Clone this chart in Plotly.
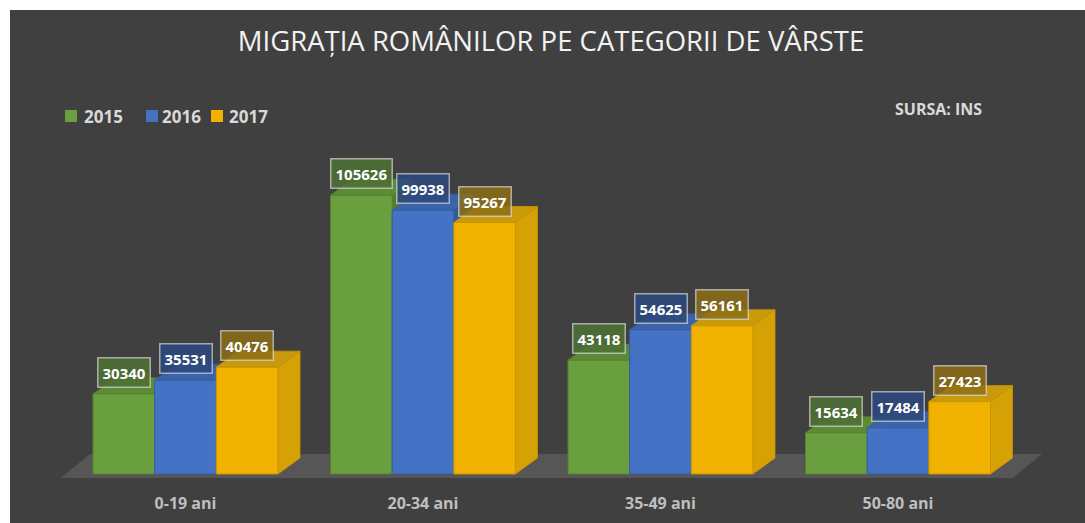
import plotly.graph_objects as go

# ---- data ----
categories = ["0-19 ani", "20-34 ani", "35-49 ani", "50-80 ani"]
years = ["2015", "2016", "2017"]
values_2015 = [30340, 105626, 43118, 15634]
values_2016 = [35531, 99938, 54625, 17484]
values_2017 = [40476, 95267, 56161, 27423]
series_values = [values_2015, values_2016, values_2017]

# ---- styles ----
FRONT = ["#6a9f40", "#4472c4", "#f0b100"]
EDGE = ["#55822f", "#355da3", "#c99400"]
TOP = ["#5b8c35", "#3a63a9", "#c89a0c"]
SIDE = ["#52802d", "#345a9c", "#d5a104"]
LABEL_BG = ["rgba(76,112,52,0.88)", "rgba(44,72,124,0.88)", "rgba(140,110,22,0.85)"]
BG = "#404040"

W = 1085
H = 523
ML, MR, MT, MB = 10, 0, 10, 43
plot_w = W - ML - MR
plot_h = H - MT - MB

def px_x(px):
    return (px - ML) / plot_w

def px_y(py):
    return (MT + plot_h - py) / plot_h

px_per_unit_x = 237.5
px_per_unit_y = 2.64 / 1000.0
zero_px = 474
x_left_offset = 185.5 - ML
x0r = -x_left_offset / px_per_unit_x
x1r = x0r + plot_w / px_per_unit_x
y0r = -(MT + plot_h - zero_px) / px_per_unit_y
y1r = (zero_px - MT) / px_per_unit_y

group_frac = 0.779
bw = group_frac / 3
dx = 22 / px_per_unit_x
dy = 16 / px_per_unit_y

xs = list(range(len(categories)))

fig = go.Figure()
shapes = []
# dark background panel (inside white frame)
shapes.append(dict(type="rect", xref="paper", yref="paper", x0=0, x1=1,
                   y0=-MB / plot_h, y1=1, fillcolor=BG, line=dict(width=0),
                   layer="below"))
# floor
fl_front_y = -4 / px_per_unit_y
fl_back_y = 20 / px_per_unit_y
fl_l = (61 - 185.5) / px_per_unit_x
fl_r = (1013 - 185.5) / px_per_unit_x
fdx = 29 / px_per_unit_x
shapes.append(dict(type="path", xref="x", yref="y",
                   path=f"M{fl_l},{fl_front_y} L{fl_r},{fl_front_y} L{fl_r+fdx},{fl_back_y} L{fl_l+fdx},{fl_back_y} Z",
                   fillcolor="#565656", line=dict(width=0), layer="below"))

annotations = []
for c in xs:
    for j, vals in enumerate(series_values):
        h = vals[c]
        center = c + (j - 1) * bw
        a = center - bw / 2
        b = center + bw / 2
        shapes.append(dict(type="path", xref="x", yref="y",
                           path=f"M{b},0 L{b+dx},{dy} L{b+dx},{h+dy} L{b},{h} Z",
                           fillcolor=SIDE[j], line=dict(width=0.8, color=EDGE[j]), layer="below"))
        shapes.append(dict(type="path", xref="x", yref="y",
                           path=f"M{a},{h} L{b},{h} L{b+dx},{h+dy} L{a+dx},{h+dy} Z",
                           fillcolor=TOP[j], line=dict(width=0.8, color=EDGE[j]), layer="below"))
        annotations.append(dict(xref="x", yref="y", x=center, y=h, yanchor="bottom",
                                yshift=6, showarrow=False, text=f"{h}",
                                font=dict(family="Open Sans", size=15, color="#ffffff", weight="bold"),
                                bgcolor=LABEL_BG[j], bordercolor="rgba(225,225,225,0.65)",
                                borderwidth=1.5, borderpad=4))

for j, vals in enumerate(series_values):
    fig.add_trace(go.Bar(x=xs, y=vals, name=years[j], width=bw,
                         offset=(j - 1.5) * bw,
                         marker=dict(color=FRONT[j], line=dict(color=EDGE[j], width=1)),
                         hoverinfo="skip", showlegend=False))

# manual legend (swatch + label)
legend_swatch_px = [65, 146, 211]
legend_text_px = [82, 160, 227]
for j, name in enumerate(years):
    sx = legend_swatch_px[j]
    shapes.append(dict(type="rect", xref="paper", yref="paper",
                       x0=px_x(sx), x1=px_x(sx + 12), y0=px_y(122), y1=px_y(110),
                       fillcolor=FRONT[j], line=dict(width=0)))
    annotations.append(dict(xref="paper", yref="paper", x=px_x(legend_text_px[j]),
                            y=px_y(116), xanchor="left", yanchor="middle",
                            showarrow=False, text=name,
                            font=dict(family="Open Sans", size=17, color="#d9d9d9", weight="bold")))

annotations.append(dict(xref="paper", yref="paper", x=px_x(938),
                        y=px_y(109), showarrow=False,
                        text="SURSA: INS", xanchor="center", yanchor="middle",
                        font=dict(family="Open Sans", size=16, color="#d9d9d9", weight="bold")))

fig.update_layout(
    width=W, height=H,
    margin=dict(l=ML, r=MR, t=MT, b=MB),
    paper_bgcolor="#ffffff",
    plot_bgcolor="rgba(0,0,0,0)",
    barmode="overlay",
    title=dict(text="MIGRAȚIA ROMÂNILOR PE CATEGORII DE VÂRSTE",
               x=551 / W, xanchor="center", y=1 - 41 / H, yanchor="middle",
               font=dict(family="Open Sans", size=27.5, color="#f2f2f2")),
    showlegend=False,
    xaxis=dict(range=[x0r, x1r], tickvals=xs, ticktext=categories,
               showgrid=False, zeroline=False, showline=False,
               ticks="outside", ticklen=9, tickcolor="rgba(0,0,0,0)",
               tickfont=dict(family="Open Sans", size=16, color="#bfbfbf", weight="bold"),
               fixedrange=True),
    yaxis=dict(range=[y0r, y1r], visible=False, showgrid=False, zeroline=False,
               fixedrange=True),
    shapes=shapes,
    annotations=annotations,
)

fig.write_html("out.html")
